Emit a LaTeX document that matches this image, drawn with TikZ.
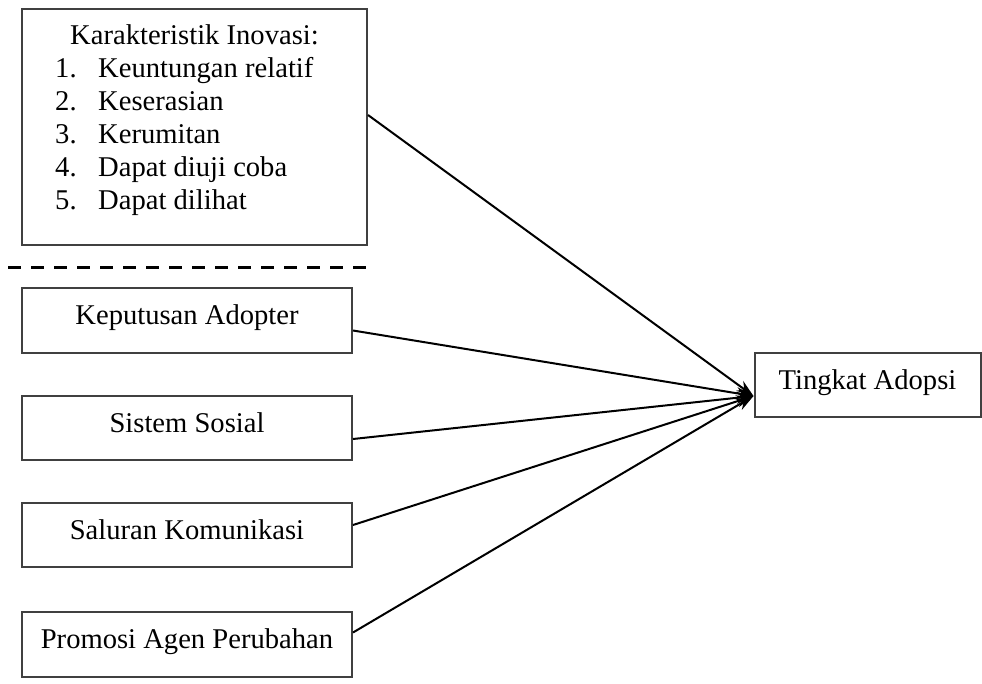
\documentclass[tikz,border=0pt]{standalone}
\usepackage{fontspec}
\setmainfont{Liberation Serif}
\usetikzlibrary{arrows.meta}
\begin{document}
\begin{tikzpicture}[x=1pt,y=-1pt,
  txt/.style={font=\fontsize{28.6}{34}\selectfont, text=black, inner sep=0pt},
  box/.style={draw=black!75, line width=2pt, fill=white, inner sep=0pt,
    font=\fontsize{28.6}{34}\selectfont, text height=16pt, text depth=8pt,
    align=center},
  link/.style={line width=2pt, black, -{Stealth[length=17pt,width=12pt]}},
  sep/.style={line width=3pt, black, dash pattern=on 13pt off 10pt}]
\useasboundingbox (0,0) rectangle (982,683);
% boxes
\node[box, minimum width=345pt, minimum height=236pt] (kar) at (194.5,127) {};
\node[txt, anchor=base west] (k0) at (70,44) {Karakteristik Inovasi:};
\node[txt, anchor=base west] (n1) at (55,77) {1.};
\node[txt, anchor=base west] (t1) at (98,77) {Keuntungan relatif};
\node[txt, anchor=base west] (n2) at (55,110) {2.};
\node[txt, anchor=base west] (t2) at (98,110) {Keserasian};
\node[txt, anchor=base west] (n3) at (55,143) {3.};
\node[txt, anchor=base west] (t3) at (98,143) {Kerumitan};
\node[txt, anchor=base west] (n4) at (55,176) {4.};
\node[txt, anchor=base west] (t4) at (98,176) {Dapat diuji coba};
\node[txt, anchor=base west] (n5) at (55,209) {5.};
\node[txt, anchor=base west] (t5) at (98,209) {Dapat dilihat};
% separator
\coordinate (dl) at (8,267);
\coordinate (dr) at (374,267);
\draw[sep] (dl) -- (dr);
\node[box, minimum width=330pt, minimum height=65pt] (kep) at (187,320.5) {Keputusan Adopter};
\node[box, minimum width=330pt, minimum height=64pt] (sis) at (187,428) {Sistem Sosial};
\node[box, minimum width=330pt, minimum height=64pt] (sal) at (187,535) {Saluran Komunikasi};
\node[box, minimum width=330pt, minimum height=65pt] (pro) at (187,644.5) {Promosi Agen Perubahan};
\node[box, minimum width=226pt, minimum height=64pt] (ting) at (867.5,385) {Tingkat Adopsi};
\coordinate (tip) at ([yshift=-11pt]ting.west);
% connectors
\draw[link] ([yshift=12pt]kar.east) -- (tip);
\draw[link] ([yshift=-10pt]kep.east) -- (tip);
\draw[link] ([yshift=-11pt]sis.east) -- (tip);
\draw[link] ([yshift=10pt]sal.east) -- (tip);
\draw[link] ([yshift=12pt]pro.east) -- (tip);
\end{tikzpicture}
\end{document}
